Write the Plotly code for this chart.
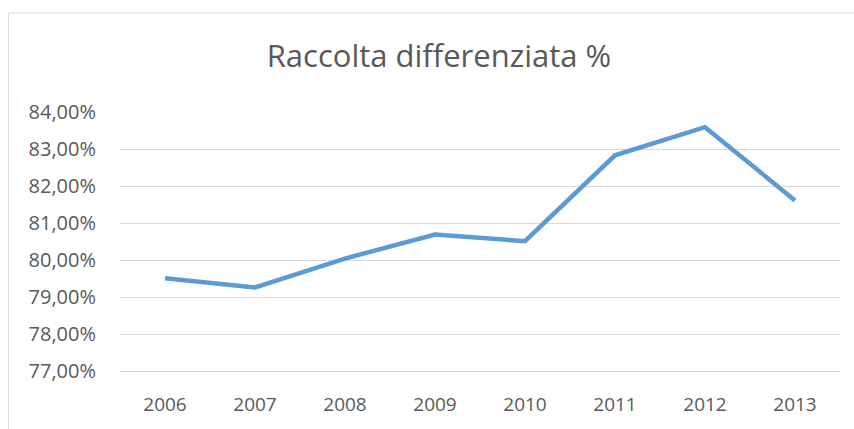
import plotly.graph_objects as go

# %%
# Data
years = ["2006", "2007", "2008", "2009", "2010", "2011", "2012", "2013"]
raccolta_pct = [79.51, 79.26, 80.04, 80.69, 80.51, 82.83, 83.59, 81.61]

line_color = "#5B9BD5"
grid_color = "#D9D9D9"
text_color = "#595959"
font_family = "Open Sans"

# %%
fig = go.Figure()
fig.add_trace(
    go.Scatter(
        x=years,
        y=raccolta_pct,
        mode="lines",
        line=dict(color=line_color, width=4.5),
        hoverinfo="x+y",
    )
)

fig.update_layout(
    width=854,
    height=429,
    margin=dict(l=120, r=14, t=112, b=51),
    paper_bgcolor="white",
    plot_bgcolor="white",
    separators=",.",
    showlegend=False,
    font=dict(family=font_family, color=text_color),
    title=dict(
        text="Raccolta differenziata %",
        font=dict(size=31, color=text_color),
        x=0.514,
        xanchor="center",
        yref="container",
        y=(429 - 56) / 429,
        yanchor="middle",
    ),
    # chart-area border (right and bottom edges fall outside the window)
    shapes=[
        dict(
            type="rect",
            xref="paper",
            yref="paper",
            x0=-0.1549,
            x1=1.1,
            y0=-0.4,
            y1=1.378,
            line=dict(color=grid_color, width=1),
            layer="below",
        )
    ],
)

fig.update_xaxes(
    type="category",
    range=[-0.5, 7.5],
    showgrid=False,
    showline=False,
    zeroline=False,
    ticks="outside",
    ticklen=13,
    tickcolor="rgba(0,0,0,0)",
    tickfont=dict(size=19, color=text_color),
)
fig.update_yaxes(
    range=[76.92, 84],
    tick0=77,
    dtick=1,
    tickformat=".2f",
    ticksuffix="%",
    showgrid=True,
    gridcolor=grid_color,
    gridwidth=1,
    showline=False,
    zeroline=False,
    ticks="outside",
    ticklen=19,
    tickcolor="rgba(0,0,0,0)",
    tickfont=dict(size=20, color=text_color),
)

# drop the default page margin so the figure sits at the window origin
fig.write_html(
    "out.html",
    config={"displayModeBar": False},
    post_script="document.body.style.margin='0';",
)
